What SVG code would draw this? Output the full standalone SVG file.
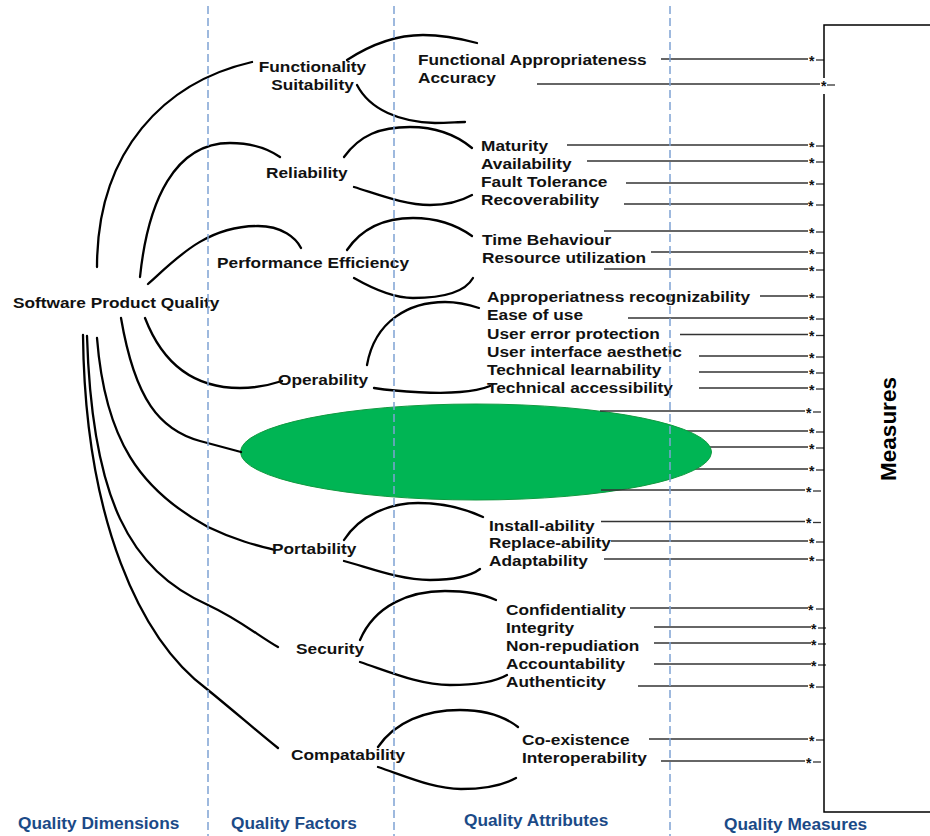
<svg xmlns="http://www.w3.org/2000/svg" width="930" height="836" viewBox="0 0 930 836">
<style>
.lbl{font-family:"Liberation Sans",Arial,sans-serif;font-weight:bold;font-size:15.5px;fill:#111}
.hdr{font-family:"Liberation Sans",Arial,sans-serif;font-weight:bold;font-size:17.3px;fill:#1b4a87}
.star{font-family:"Liberation Sans",Arial,sans-serif;font-weight:bold;font-size:14px;fill:#111}
.cv{fill:none;stroke:#000;stroke-width:2.3;stroke-linecap:round}
.ml{stroke:#333;stroke-width:1.3}
.dash{stroke:#7fa3d3;stroke-width:1.5;stroke-dasharray:8 4}
</style>
<rect width="930" height="836" fill="#fff"/>

<g id="measure-lines-under">
<line class="ml" x1="600" y1="431" x2="808" y2="431"/>
<line class="ml" x1="600" y1="447" x2="808" y2="447"/>
<line class="ml" x1="600" y1="469" x2="808" y2="469"/>
</g>

<g id="node-ellipse">
<ellipse cx="476" cy="452" rx="235.5" ry="48" fill="#00b554" stroke="#109a40" stroke-width="1"/>
</g>

<g id="connectors">
<path class="cv" d="M97,267 C97,150 165,82 252,62"/>
<path class="cv" d="M140,277 C148,200 175,143 230,143 C255,143 270,150 280,157"/>
<path class="cv" d="M148,284 C175,260 205,226 258,226 C282,226 296,238 301,248"/>
<path class="cv" d="M145,318 C165,370 200,388 240,388 C258,388 270,385 282,381"/>
<path class="cv" d="M121,318 C135,400 160,430 200,441 L241,452"/>
<path class="cv" d="M97,338 C105,440 140,490 208,527 C235,540 255,545 275,550"/>
<path class="cv" d="M87,336 C92,500 130,570 208,605 C240,620 260,637 278,647"/>
<path class="cv" d="M83,335 C85,520 140,640 208,690 C235,712 258,732 278,748"/>

<path class="cv" d="M347,60 C370,45 395,35 423,35 C445,35 462,39 477,43"/>
<path class="cv" d="M357,85 C370,110 400,122 435,123 C448,123 458,122 465,122"/>
<path class="cv" d="M344,157 C360,135 380,127 410,127 C440,127 460,138 472,148"/>
<path class="cv" d="M354,187 C380,195 405,205 430,205 C450,205 463,200 472,195"/>
<path class="cv" d="M347,250 C362,228 385,218 413,218 C440,218 458,226 472,236"/>
<path class="cv" d="M354,278 C375,290 395,298 413,298 C445,298 465,292 473,278"/>
<path class="cv" d="M367,365 C375,320 410,302 445,302 C460,302 470,305 479,308"/>
<path class="cv" d="M374,388 C400,392 440,394 460,392 C475,391 485,388 490,386"/>
<path class="cv" d="M344,540 C360,515 390,503 418,503 C445,503 468,510 483,517"/>
<path class="cv" d="M344,561 C370,568 400,580 430,580 C455,580 472,575 480,569"/>
<path class="cv" d="M360,640 C375,605 410,591 445,591 C470,591 485,595 496,600"/>
<path class="cv" d="M360,662 C390,672 420,685 450,685 C475,685 495,682 507,675"/>
<path class="cv" d="M378,747 C395,722 425,710 460,710 C485,710 505,717 518,727"/>
<path class="cv" d="M378,767 C410,778 435,789 461,789 C488,789 505,784 516,778"/>

<line class="ml" x1="661" y1="59" x2="808" y2="59"/>
<line class="ml" x1="537" y1="84" x2="820" y2="84"/>
<line class="ml" x1="567" y1="145" x2="808" y2="145"/>
<line class="ml" x1="587" y1="161" x2="808" y2="161"/>
<line class="ml" x1="626" y1="183" x2="808" y2="183"/>
<line class="ml" x1="624" y1="204" x2="808" y2="204"/>
<line class="ml" x1="604" y1="231" x2="808" y2="231"/>
<line class="ml" x1="651" y1="252" x2="808" y2="252"/>
<line class="ml" x1="604" y1="269" x2="808" y2="269"/>
<line class="ml" x1="760" y1="296" x2="808" y2="296"/>
<line class="ml" x1="628" y1="318" x2="808" y2="318"/>
<line class="ml" x1="680" y1="334.5" x2="808" y2="334.5"/>
<line class="ml" x1="699" y1="356" x2="808" y2="356"/>
<line class="ml" x1="699" y1="372" x2="808" y2="372"/>
<line class="ml" x1="699" y1="388" x2="808" y2="388"/>
<line class="ml" x1="600" y1="411" x2="805" y2="411"/>
<line class="ml" x1="601" y1="490" x2="805" y2="490"/>
<line class="ml" x1="601" y1="521.5" x2="805" y2="521.5"/>
<line class="ml" x1="611" y1="541" x2="808" y2="541"/>
<line class="ml" x1="604" y1="559" x2="808" y2="559"/>
<line class="ml" x1="630" y1="608" x2="808" y2="608"/>
<line class="ml" x1="654" y1="627" x2="811" y2="627"/>
<line class="ml" x1="654" y1="643" x2="811" y2="643"/>
<line class="ml" x1="654" y1="664" x2="811" y2="664"/>
<line class="ml" x1="638" y1="686" x2="808" y2="686"/>
<line class="ml" x1="649" y1="739" x2="808" y2="739"/>
<line class="ml" x1="661" y1="761" x2="805" y2="761"/>

<line class="ml" x1="816" y1="60" x2="824" y2="60"/>
<line class="ml" x1="827" y1="85" x2="835" y2="85"/>
<line class="ml" x1="816" y1="146" x2="824" y2="146"/>
<line class="ml" x1="816" y1="162" x2="824" y2="162"/>
<line class="ml" x1="816" y1="184" x2="824" y2="184"/>
<line class="ml" x1="816" y1="205" x2="824" y2="205"/>
<line class="ml" x1="816" y1="232" x2="824" y2="232"/>
<line class="ml" x1="816" y1="253" x2="824" y2="253"/>
<line class="ml" x1="816" y1="270" x2="824" y2="270"/>
<line class="ml" x1="816" y1="297" x2="824" y2="297"/>
<line class="ml" x1="816" y1="319" x2="824" y2="319"/>
<line class="ml" x1="816" y1="335.5" x2="824" y2="335.5"/>
<line class="ml" x1="816" y1="357" x2="824" y2="357"/>
<line class="ml" x1="816" y1="373" x2="824" y2="373"/>
<line class="ml" x1="816" y1="389" x2="824" y2="389"/>
<line class="ml" x1="813" y1="412" x2="821" y2="412"/>
<line class="ml" x1="816" y1="432" x2="824" y2="432"/>
<line class="ml" x1="816" y1="448" x2="824" y2="448"/>
<line class="ml" x1="816" y1="470" x2="824" y2="470"/>
<line class="ml" x1="813" y1="491" x2="821" y2="491"/>
<line class="ml" x1="813" y1="522.5" x2="821" y2="522.5"/>
<line class="ml" x1="816" y1="542" x2="824" y2="542"/>
<line class="ml" x1="816" y1="560" x2="824" y2="560"/>
<line class="ml" x1="816" y1="609" x2="824" y2="609"/>
<line class="ml" x1="818" y1="628" x2="826" y2="628"/>
<line class="ml" x1="818" y1="644" x2="826" y2="644"/>
<line class="ml" x1="818" y1="665" x2="826" y2="665"/>
<line class="ml" x1="816" y1="687" x2="824" y2="687"/>
<line class="ml" x1="816" y1="740" x2="824" y2="740"/>
<line class="ml" x1="813" y1="762" x2="821" y2="762"/>
</g>

<g id="stars" class="star">
<text x="809" y="65.5">*</text>
<text x="821" y="90.5">*</text>
<text x="809" y="151.5">*</text>
<text x="809" y="167.5">*</text>
<text x="809" y="189.5">*</text>
<text x="808" y="210.5">*</text>
<text x="809" y="237.5">*</text>
<text x="809" y="258.5">*</text>
<text x="809" y="275.5">*</text>
<text x="809" y="302.5">*</text>
<text x="809" y="324.5">*</text>
<text x="809" y="341">*</text>
<text x="809" y="362.5">*</text>
<text x="809" y="378.5">*</text>
<text x="809" y="394.5">*</text>
<text x="806" y="417.5">*</text>
<text x="809" y="437.5">*</text>
<text x="809" y="453.5">*</text>
<text x="809" y="475.5">*</text>
<text x="806" y="496.5">*</text>
<text x="806" y="528">*</text>
<text x="809" y="547.5">*</text>
<text x="809" y="565.5">*</text>
<text x="808" y="614.5">*</text>
<text x="811" y="633.5">*</text>
<text x="811" y="649.5">*</text>
<text x="811" y="670.5">*</text>
<text x="809" y="692.5">*</text>
<text x="809" y="745.5">*</text>
<text x="806" y="767.5">*</text>
</g>

<g id="node-spq"><text class="lbl" transform="translate(13,308) scale(1.115,1)">Software Product Quality</text></g>
<g id="node-functionality">
<text class="lbl" transform="translate(312.5,72) scale(1.115,1)" text-anchor="middle">Functionality</text>
<text class="lbl" transform="translate(312.5,89.5) scale(1.115,1)" text-anchor="middle">Suitability</text>
</g>
<g id="node-reliability"><text class="lbl" transform="translate(266,178) scale(1.115,1)">Reliability</text></g>
<g id="node-performance"><text class="lbl" transform="translate(217,268) scale(1.115,1)">Performance Efficiency</text></g>
<g id="node-operability"><text class="lbl" transform="translate(278,385) scale(1.115,1)">Operability</text></g>
<g id="node-portability"><text class="lbl" transform="translate(272,554) scale(1.115,1)">Portability</text></g>
<g id="node-security"><text class="lbl" transform="translate(296,654) scale(1.115,1)">Security</text></g>
<g id="node-compatability"><text class="lbl" transform="translate(291,760) scale(1.115,1)">Compatability</text></g>

<g id="attr-functionality">
<text class="lbl" transform="translate(418,65) scale(1.115,1)">Functional Appropriateness</text>
<text class="lbl" transform="translate(418,83) scale(1.115,1)">Accuracy</text>
</g>
<g id="attr-reliability">
<text class="lbl" transform="translate(481,151) scale(1.115,1)">Maturity</text>
<text class="lbl" transform="translate(481,169) scale(1.115,1)">Availability</text>
<text class="lbl" transform="translate(481,187) scale(1.115,1)">Fault Tolerance</text>
<text class="lbl" transform="translate(481,205) scale(1.115,1)">Recoverability</text>
</g>
<g id="attr-performance">
<text class="lbl" transform="translate(482,245) scale(1.115,1)">Time Behaviour</text>
<text class="lbl" transform="translate(482,262.5) scale(1.115,1)">Resource utilization</text>
</g>
<g id="attr-operability">
<text class="lbl" transform="translate(487,302) scale(1.115,1)">Approperiatness recognizability</text>
<text class="lbl" transform="translate(487,320) scale(1.115,1)">Ease of use</text>
<text class="lbl" transform="translate(487,338.5) scale(1.115,1)">User error protection</text>
<text class="lbl" transform="translate(487,356.5) scale(1.115,1)">User interface aesthetic</text>
<text class="lbl" transform="translate(487,375) scale(1.115,1)">Technical learnability</text>
<text class="lbl" transform="translate(487,393) scale(1.115,1)">Technical accessibility</text>
</g>
<g id="attr-portability">
<text class="lbl" transform="translate(489,530.5) scale(1.115,1)">Install-ability</text>
<text class="lbl" transform="translate(489,548) scale(1.115,1)">Replace-ability</text>
<text class="lbl" transform="translate(489,565.5) scale(1.115,1)">Adaptability</text>
</g>
<g id="attr-security">
<text class="lbl" transform="translate(506,615) scale(1.115,1)">Confidentiality</text>
<text class="lbl" transform="translate(506,633) scale(1.115,1)">Integrity</text>
<text class="lbl" transform="translate(506,651) scale(1.115,1)">Non-repudiation</text>
<text class="lbl" transform="translate(506,669) scale(1.115,1)">Accountability</text>
<text class="lbl" transform="translate(506,686.5) scale(1.115,1)">Authenticity</text>
</g>
<g id="attr-compatability">
<text class="lbl" transform="translate(522,745) scale(1.115,1)">Co-existence</text>
<text class="lbl" transform="translate(522,763) scale(1.115,1)">Interoperability</text>
</g>

<g id="node-measures">
<path d="M930,25 H824 V78 M824,94 V812 H930" fill="none" stroke="#000" stroke-width="1.5"/>
<text transform="translate(896,429) rotate(-90)" text-anchor="middle" style="font-family:'Liberation Sans',Arial,sans-serif;font-weight:bold;font-size:22.5px;fill:#000">Measures</text>
</g>

<g id="columns">
<line class="dash" x1="208" y1="6" x2="208" y2="836"/>
<line class="dash" x1="394" y1="6" x2="394" y2="836"/>
<line class="dash" x1="670" y1="6" x2="670" y2="836"/>
<text class="hdr" x="18" y="829">Quality Dimensions</text>
<text class="hdr" x="231" y="829">Quality Factors</text>
<text class="hdr" x="464" y="826">Quality Attributes</text>
<text class="hdr" x="724" y="830">Quality Measures</text>
</g>
</svg>
